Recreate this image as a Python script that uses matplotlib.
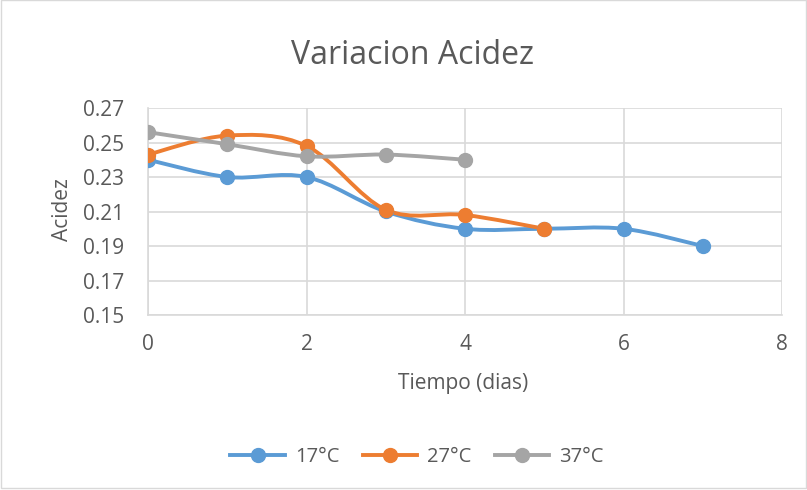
import numpy as np
import matplotlib.pyplot as plt
from matplotlib.path import Path
from matplotlib.patches import PathPatch, Rectangle
from matplotlib.lines import Line2D

# acidez medida por dia a cada temperatura
dias_17 = [0, 1, 2, 3, 4, 5, 6, 7]
acidez_17 = [0.240, 0.230, 0.230, 0.210, 0.200, 0.200, 0.200, 0.190]
dias_27 = [0, 1, 2, 3, 4, 5]
acidez_27 = [0.243, 0.254, 0.248, 0.211, 0.208, 0.200]
dias_37 = [0, 1, 2, 3, 4]
acidez_37 = [0.256, 0.249, 0.242, 0.243, 0.240]

etiquetas = ['17°C', '27°C', '37°C']
colores = ['#5B9BD5', '#ED7D31', '#A5A5A5']
texto = '#595959'

plt.rcParams['font.family'] = ['Open Sans', 'DejaVu Sans']


def curva_suave(x, y):
    # bezier tipo catmull-rom, como las lineas suavizadas de excel
    p = np.column_stack([x, y]).astype(float)
    verts = [p[0]]
    codes = [Path.MOVETO]
    n = len(p)
    for i in range(n - 1):
        p0 = p[i - 1] if i > 0 else p[i]
        p3 = p[i + 2] if i + 2 < n else p[i + 1]
        c1 = p[i] + (p[i + 1] - p0) / 6
        c2 = p[i + 1] - (p3 - p[i]) / 6
        verts += [c1, c2, p[i + 1]]
        codes += [Path.CURVE4] * 3
    return Path(verts, codes)


fig = plt.figure(figsize=(8.07, 4.9), dpi=100)
fig.patches.append(Rectangle((0.001, 0.004), 0.998, 0.995, transform=fig.transFigure,
                             fill=False, edgecolor='#D9D9D9', linewidth=1))
ax = fig.add_axes([148 / 807, 1 - 315 / 490, (782 - 148) / 807, (315 - 108) / 490])

series = [(dias_17, acidez_17), (dias_27, acidez_27), (dias_37, acidez_37)]
for (x, y), c in zip(series, colores):
    ax.add_patch(PathPatch(curva_suave(x, y), facecolor='none', edgecolor=c,
                           linewidth=2.8, capstyle='round', joinstyle='round', zorder=3))
    ax.plot(x, y, 'o', color=c, markersize=10, zorder=4)

ax.set_xlim(0, 8)
ax.set_ylim(0.15, 0.27)
ax.set_xticks(np.arange(0, 9, 2))
ax.set_yticks(np.arange(0.15, 0.2701, 0.02))
ax.set_yticklabels([f'{v:.2f}' for v in np.arange(0.15, 0.2701, 0.02)])
ax.grid(True, color='#D9D9D9', linewidth=1.2)
ax.set_axisbelow(True)
for s in ['top', 'right']:
    ax.spines[s].set_visible(False)
ax.spines['left'].set_color('#D9D9D9')
ax.spines['bottom'].set_color('#D9D9D9')
ax.spines['left'].set_linewidth(1.2)
ax.spines['bottom'].set_linewidth(1.2)
ax.tick_params(length=0, labelsize=15, colors=texto)
ax.tick_params(axis='y', pad=17)
ax.tick_params(axis='x', pad=14)

fig.text(413 / 807, 1 - 55 / 490, 'Variacion Acidez', fontsize=23, color=texto,
         ha='center', va='center')
ax.set_xlabel('Tiempo (dias)', fontsize=15, color=texto, va='center')
ax.xaxis.set_label_coords(0.497, -0.33)
ax.set_ylabel('Acidez', fontsize=15, color=texto, va='center')
ax.yaxis.set_label_coords(-0.135, 0.507)

handles = [Line2D([0], [0], color=c, lw=2.8, marker='o', markersize=10) for c in colores]
fig.legend(handles, etiquetas, loc='center', bbox_to_anchor=(417 / 807, 1 - 457 / 490), ncol=3,
           frameon=False, fontsize=14.5, labelcolor=texto, handlelength=2.7,
           handletextpad=0.5, columnspacing=1.15)

fig.savefig('out.png', dpi=100)
